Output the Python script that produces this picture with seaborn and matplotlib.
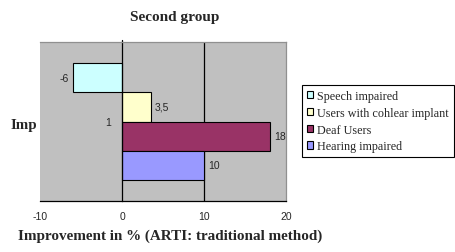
import matplotlib
matplotlib.use("Agg")
import matplotlib.pyplot as plt
import seaborn as sns
import pandas as pd

series = ["Speech impaired", "Users with cohlear implant", "Deaf Users", "Hearing impaired"]
values = [-6, 3.5, 18, 10]
category = ["1"] * 4
colors = ["#CCFFFF", "#FFFFCC", "#993366", "#9999FF"]
xticks = [-10, 0, 10, 20]

df = pd.DataFrame({"series": series, "value": values, "cat": category})

sns.set_style("white")
plt.rcParams["font.family"] = ["Liberation Sans", "DejaVu Sans"]

fig = plt.figure(figsize=(4.55, 2.53), dpi=100)
ax = fig.add_axes([40 / 455, 1 - 202 / 253, 246 / 455, 159 / 253])
ax.set_facecolor("#C0C0C0")

sns.barplot(data=df, x="value", y="cat", hue="series", hue_order=series,
            palette=colors, orient="h", width=0.73, edgecolor="black",
            linewidth=0.8, ax=ax, legend=True, saturation=1)

ax.set_xlim(-10, 20)
ax.set_ylim(0.5, -0.5)
ax.axvline(10, color="black", lw=0.9, zorder=0.5)
ax.plot([0, 0], [-0.5, -0.515], color="black", lw=0.9, clip_on=False)

for cont in ax.containers:
    labs = [("%g" % v).replace(".", ",") for v in cont.datavalues]
    ax.bar_label(cont, labels=labs, padding=3, fontsize=7.5)

ax.set_xticks(xticks)
ax.set_xticklabels([str(t) for t in xticks], fontsize=7.5)
ax.tick_params(axis="x", direction="out", length=4, width=0.8, color="black", pad=3)
ax.tick_params(axis="y", length=0, pad=8, labelsize=7.5)
ax.spines["left"].set_position(("data", 0))
ax.spines["left"].set_color("black")
ax.spines["bottom"].set_color("black")
ax.spines["top"].set_color("#909090")
ax.spines["right"].set_color("#909090")
for s in ax.spines.values():
    s.set_linewidth(0.9)
ax.set_ylabel("")
ax.set_xlabel("")

fig.text(175 / 455, 1 - 17 / 253, "Second group", ha="center", va="center",
         family="Liberation Serif", fontweight="bold", fontsize=11)
fig.text(24 / 455, 1 - 126 / 253, "Imp", ha="center", va="center",
         family="Liberation Serif", fontweight="bold", fontsize=10.8)
fig.text(170 / 455, 1 - 236 / 253, "Improvement in % (ARTI: traditional method)",
         ha="center", va="center", family="Liberation Serif", fontweight="bold",
         fontsize=10.9)

h, l = ax.get_legend_handles_labels()
ax.get_legend().remove()
leg = fig.legend(h, l, loc="upper left", bbox_to_anchor=(302 / 455, 1 - 86 / 253),
                 prop={"family": "Liberation Serif", "size": 8.7},
                 frameon=True, fancybox=False, edgecolor="black", framealpha=1,
                 handlelength=0.55, handleheight=0.55, handletextpad=0.3,
                 labelspacing=0.4, borderpad=0.4, borderaxespad=0)
leg.get_frame().set_linewidth(0.8)

fig.savefig("out.png", dpi=100, facecolor="white")
